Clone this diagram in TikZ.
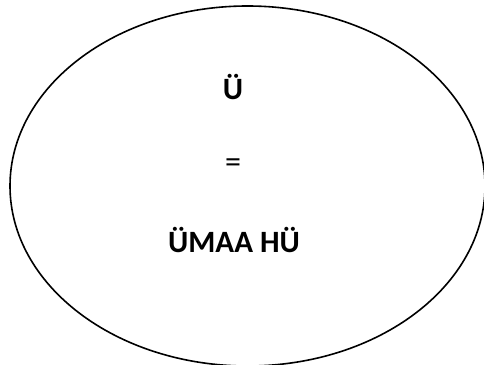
\documentclass[tikz,border=0pt]{standalone}
\usepackage{fontspec}
\setmainfont{Carlito}
\begin{document}
\begin{tikzpicture}[x=1pt,y=-1pt,
  lbl/.style={inner sep=0pt,font=\fontsize{31}{36}\selectfont\bfseries},
  eq/.style={inner sep=0pt,font=\fontsize{32}{36}\selectfont}]
\useasboundingbox (0,0) rectangle (484,364);
\draw[line width=1.6pt] (247.5,186) ellipse [x radius=237.5, y radius=180];
\node[lbl] (u) at (233,87) {Ü};
\node[eq] (e) at (233,166) {=};
\node[lbl] (w) at (234,240) {ÜMAA HÜ};
\end{tikzpicture}
\end{document}
